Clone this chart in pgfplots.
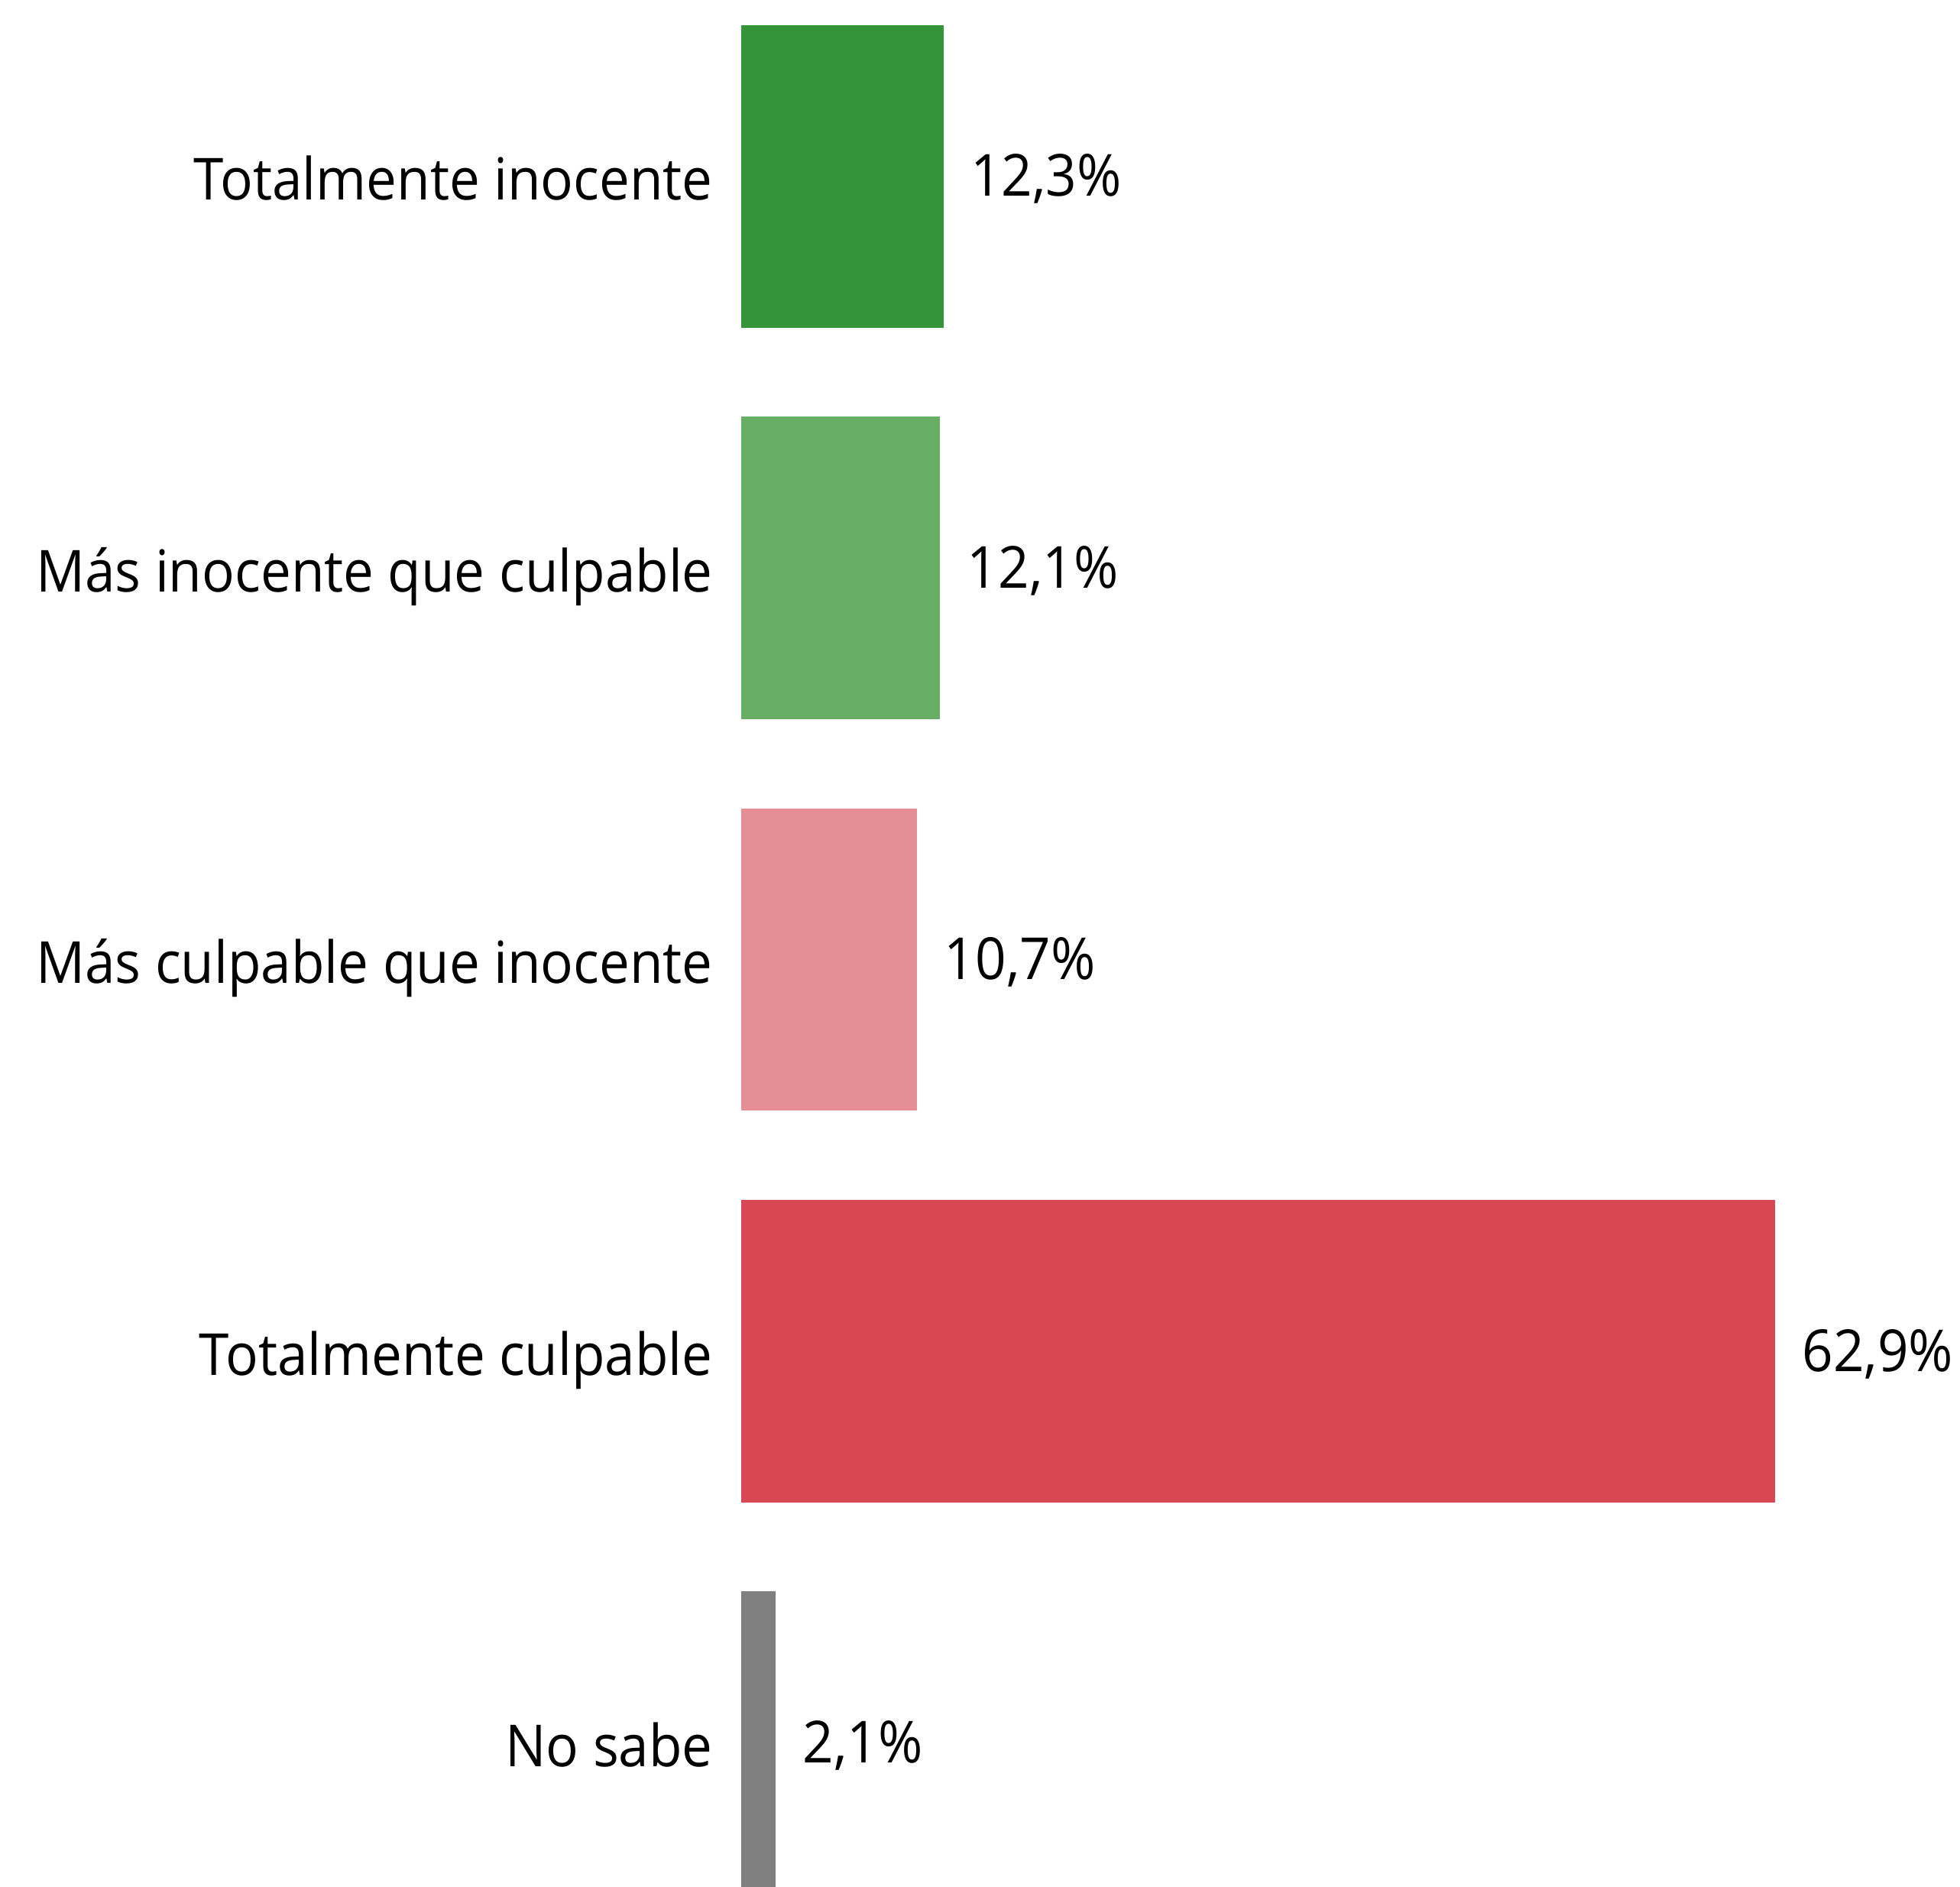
\documentclass[border=0pt]{standalone}
\usepackage{fontspec}
\setmainfont[FakeStretch=0.935]{Open Sans}
\usepackage{pgfplots}
\pgfplotsset{compat=1.18}

\definecolor{cgreen}{RGB}{54,148,56}
\definecolor{clgreen}{RGB}{104,175,102}
\definecolor{cpink}{RGB}{229,142,149}
\definecolor{cred}{RGB}{216,71,82}
\definecolor{cgray}{RGB}{128,128,128}

\begin{document}
\begin{tikzpicture}
  % picture frame: 1568 x 1509 px at 0.25pt per px, bottom bar is cut off
  \clip (0,0) rectangle (392pt,377.25pt);
  \begin{axis}[
    at={(148.25pt,28.75pt)}, anchor=south west,
    scale only axis,
    width=206.75pt, height=313.25pt,
    xmin=0, xmax=62.9, ymin=0, ymax=4,
    y dir=reverse,
    clip=false,
    xbar, bar width=60.5pt, bar shift=0pt,
    ytick={0,1,2,3,4},
    yticklabels={Totalmente inocente, Más inocente que culpable,
      Más culpable que inocente, Totalmente culpable, No sabe},
    hide x axis,
    axis y line*=left,
    y axis line style={draw=none},
    major tick length=0pt,
    /pgf/number format/assume math mode=true,
    yticklabel style={font=\fontsize{11.6}{14}\selectfont, anchor=base east,
      inner sep=0pt, xshift=-5.5pt, yshift=-4.75pt},
    nodes near coords={\pgfmathprintnumber[fixed,fixed zerofill,precision=1,use comma]{\pgfplotspointmeta}\%},
    nodes near coords style={font=\fontsize{11.6}{14}\selectfont, anchor=base west,
      inner sep=0pt, xshift=5.25pt, yshift=-4pt, text=black},
    point meta=x,
  ]
    \addplot[fill=cgreen, draw=none] coordinates {(12.3,0)};
    \addplot[fill=clgreen, draw=none] coordinates {(12.1,1)};
    \addplot[fill=cpink, draw=none] coordinates {(10.7,2)};
    \addplot[fill=cred, draw=none] coordinates {(62.9,3)};
    \addplot[fill=cgray, draw=none] coordinates {(2.1,4)};
  \end{axis}
\end{tikzpicture}
\end{document}
